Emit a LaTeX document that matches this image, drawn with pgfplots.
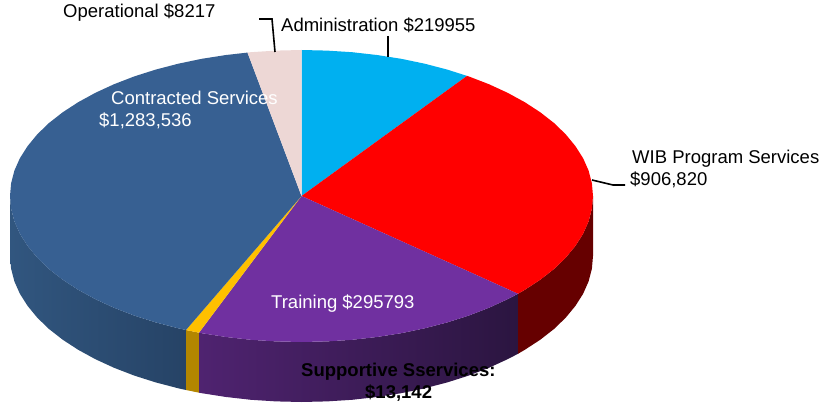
\documentclass[border=0pt]{standalone}
\usepackage{pgfplots}
\pgfplotsset{compat=1.18}
\usepackage{fontspec}
\setmainfont{Liberation Sans}

\definecolor{adminblue}{HTML}{00B0F0}
\definecolor{wibred}{HTML}{FF0000}
\definecolor{wibside}{HTML}{660000}
\definecolor{trainpurple}{HTML}{7030A0}
\definecolor{trainleft}{HTML}{4F2370}
\definecolor{trainright}{HTML}{2B1540}
\definecolor{supportgold}{HTML}{FFC000}
\definecolor{supportside}{HTML}{B38600}
\definecolor{contractblue}{HTML}{376092}
\definecolor{contractleft}{HTML}{31567F}
\definecolor{contractright}{HTML}{264366}
\definecolor{oppink}{HTML}{EDD7D5}

\newcommand{\lbl}[4][black]{\node[anchor=base west,inner sep=0pt,text=#1,font=\fontsize{18.5}{21}\selectfont] at (axis cs:#2,#3) {#4};}

\begin{document}
\begin{tikzpicture}
\begin{axis}[
    width=823pt,
    height=404pt,
    scale only axis,
    hide axis,
    xmin=0, xmax=823,
    ymin=0, ymax=404,
    y dir=reverse,
    clip=false,
]

% keep the whole canvas in the page
\path (axis cs:0,0) rectangle (axis cs:823,404);

% side walls, coordinates in image pixels
\addplot[draw=none, left color=contractleft, right color=contractright] coordinates {
    (10.0,196.0) (11.1,208.7) (14.4,221.4) (19.9,233.8) (27.6,245.9) (37.3,257.7)
    (49.0,269.0) (62.7,279.7) (78.2,289.8) (95.4,299.2) (114.1,307.8) (134.3,315.6)
    (155.7,322.4) (178.3,328.3) (186.0,330.0)
    (186.0,390.0) (178.3,388.3) (155.7,382.4) (134.3,375.6) (114.1,367.8) (95.4,359.2)
    (78.2,349.8) (62.7,339.7) (49.0,329.0) (37.3,317.7) (27.6,305.9) (19.9,293.8)
    (14.4,281.4) (11.1,268.7) (10.0,256.0)
} --cycle;

\addplot[draw=none, fill=supportside] coordinates {
    (186.0,330.0) (199.0,332.7) (199.0,392.7) (186.0,390.0)
} --cycle;

\addplot[draw=none, left color=trainleft, right color=trainright] coordinates {
    (199.0,332.7) (201.8,333.2) (226.1,337.0) (250.9,339.8) (276.1,341.4) (301.5,342.0)
    (326.9,341.4) (352.1,339.8) (376.9,337.0) (401.2,333.2) (424.7,328.3) (447.3,322.4)
    (468.7,315.6) (488.9,307.8) (507.6,299.2) (518.0,293.8)
    (518.0,353.8) (507.6,359.2) (488.9,367.8) (468.7,375.6) (447.3,382.4) (424.7,388.3)
    (401.2,393.2) (376.9,397.0) (352.1,399.8) (326.9,401.4) (301.5,402.0) (276.1,401.4)
    (250.9,399.8) (226.1,397.0) (201.8,393.2) (199.0,392.7)
} --cycle;

\addplot[draw=none, fill=wibside] coordinates {
    (518.0,293.8) (524.8,289.8) (540.3,279.7) (554.0,269.0) (565.7,257.7) (575.4,245.9)
    (583.1,233.8) (588.6,221.4) (591.9,208.7) (593.0,196.0)
    (593.0,256.0) (591.9,268.7) (588.6,281.4) (583.1,293.8) (575.4,305.9) (565.7,317.7)
    (554.0,329.0) (540.3,339.7) (524.8,349.8) (518.0,353.8)
} --cycle;

% top face: Administration
\addplot[draw=none, fill=adminblue] coordinates {
    (301.5,196.0) (301.5,50.0) (326.9,50.6) (352.1,52.2) (376.9,55.0) (401.2,58.8)
    (424.7,63.7) (447.3,69.6) (467.0,75.9)
} --cycle;

% WIB Program Services
\addplot[draw=none, fill=wibred] coordinates {
    (301.5,196.0) (467.0,75.9) (468.7,76.4) (488.9,84.2) (507.6,92.8) (524.8,102.2)
    (540.3,112.3) (554.0,123.0) (565.7,134.3) (575.4,146.1) (583.1,158.2) (588.6,170.6)
    (591.9,183.3) (593.0,196.0) (591.9,208.7) (588.6,221.4) (583.1,233.8) (575.4,245.9)
    (565.7,257.7) (554.0,269.0) (540.3,279.7) (524.8,289.8) (518.0,293.8)
} --cycle;

% Training
\addplot[draw=none, fill=trainpurple] coordinates {
    (301.5,196.0) (518.0,293.8) (507.6,299.2) (488.9,307.8) (468.7,315.6) (447.3,322.4)
    (424.7,328.3) (401.2,333.2) (376.9,337.0) (352.1,339.8) (326.9,341.4) (301.5,342.0)
    (276.1,341.4) (250.9,339.8) (226.1,337.0) (201.8,333.2) (199.0,332.7)
} --cycle;

% Supportive Services
\addplot[draw=none, fill=supportgold] coordinates {
    (301.5,196.0) (199.0,332.7) (186.0,330.0)
} --cycle;

% Contracted Services
\addplot[draw=none, fill=contractblue] coordinates {
    (301.5,196.0) (186.0,330.0) (178.3,328.3) (155.7,322.4) (134.3,315.6) (114.1,307.8)
    (95.4,299.2) (78.2,289.8) (62.7,279.7) (49.0,269.0) (37.3,257.7) (27.6,245.9)
    (19.9,233.8) (14.4,221.4) (11.1,208.7) (10.0,196.0) (11.1,183.3) (14.4,170.6)
    (19.9,158.2) (27.6,146.1) (37.3,134.3) (49.0,123.0) (62.7,112.3) (78.2,102.2)
    (95.4,92.8) (114.1,84.2) (134.3,76.4) (155.7,69.6) (178.3,63.7) (201.8,58.8)
    (226.1,55.0) (247.5,52.6)
} --cycle;

% Operational
\addplot[draw=none, fill=oppink] coordinates {
    (301.5,196.0) (247.5,52.6) (250.9,52.2) (276.1,50.6) (301.5,50.0)
} --cycle;

% leader lines
\addplot[black, line width=1.6pt] coordinates {(259,19) (272,19) (275,52)};
\addplot[black, line width=1.6pt] coordinates {(388,36) (388,57)};
\addplot[black, line width=1.6pt] coordinates {(592,180) (613,185) (625,185)};

\lbl{63}{18}{Operational \$8217}
\lbl{281}{32}{Administration \$219955}
\lbl[white]{111}{105}{Contracted Services}
\lbl[white]{99}{126}{\$1,283,536}
\lbl{632}{164}{WIB Program Services}
\lbl{630}{185}{\$906,820}
\lbl[white]{271}{308}{Training \$295793}
\lbl{301}{376}{\textbf{Supportive Sservices:}}
\lbl{365}{398}{\textbf{\$13,142}}

\end{axis}
\end{tikzpicture}
\end{document}
